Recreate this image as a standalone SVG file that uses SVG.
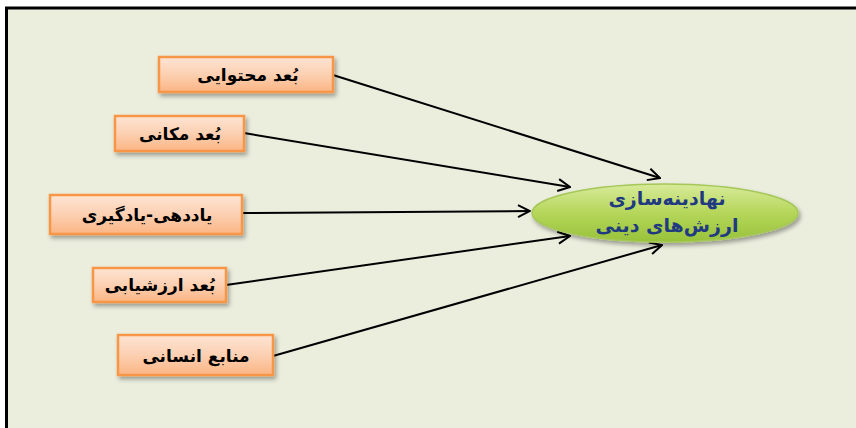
<svg xmlns="http://www.w3.org/2000/svg" width="856" height="428" viewBox="0 0 856 428">
<defs>
<linearGradient id="boxg" x1="0" y1="0" x2="0" y2="1">
<stop offset="0" stop-color="#fde4d4"/>
<stop offset="0.5" stop-color="#fcd0b2"/>
<stop offset="1" stop-color="#fbb584"/>
</linearGradient>
<linearGradient id="ellg" x1="0" y1="0" x2="0" y2="1">
<stop offset="0" stop-color="#d8eb9a"/>
<stop offset="0.5" stop-color="#b5d65a"/>
<stop offset="1" stop-color="#98c23a"/>
</linearGradient>
<filter id="sh" x="-10%" y="-20%" width="130%" height="160%">
<feDropShadow dx="2" dy="3" stdDeviation="2" flood-color="#000" flood-opacity="0.35"/>
</filter>
<marker id="arr" viewBox="0 0 14 14" refX="13" refY="7" markerWidth="14" markerHeight="14" markerUnits="userSpaceOnUse" orient="auto">
<path d="M1,1 L13,7 L1,13" fill="none" stroke="#000" stroke-width="2"/>
</marker>
</defs>
<style>
.box{fill:url(#boxg);stroke:#f79646;stroke-width:2.5;filter:url(#sh)}
.lbl{font-family:"DejaVu Sans","Noto Sans",sans-serif;font-weight:bold;font-size:17px;fill:#000;text-anchor:middle;direction:rtl}
.conn{stroke:#000;stroke-width:2;fill:none;marker-end:url(#arr)}
.elbl{font-family:"DejaVu Sans","Noto Sans",sans-serif;font-weight:bold;font-size:19px;fill:#1f3a80;text-anchor:middle;direction:rtl}
</style>
<rect x="0" y="0" width="856" height="428" fill="#fff"/>
<rect x="6.5" y="8" width="856" height="430" fill="#ebeedd" stroke="#000" stroke-width="3"/>
<g id="connectors">
<line class="conn" x1="333" y1="75" x2="660" y2="178"/>
<line class="conn" x1="244" y1="133" x2="570" y2="187"/>
<line class="conn" x1="242" y1="213" x2="530" y2="211"/>
<line class="conn" x1="226" y1="285" x2="570" y2="236"/>
<line class="conn" x1="273" y1="356" x2="662" y2="245"/>
</g>
<g id="n1">
<rect class="box" x="159" y="57" width="174" height="35"/>
<text class="lbl" x="248" y="81">بُعد محتوایی</text>
</g>
<g id="n2">
<rect class="box" x="115" y="116" width="129" height="35"/>
<text class="lbl" x="180" y="140">بُعد مکانی</text>
</g>
<g id="n3">
<rect class="box" x="50" y="195" width="192" height="39"/>
<text class="lbl" x="147" y="221">یاددهی-یادگیری</text>
</g>
<g id="n4">
<rect class="box" x="93" y="268" width="133" height="34"/>
<text class="lbl" x="160" y="291">بُعد ارزشیابی</text>
</g>
<g id="n5">
<rect class="box" x="118" y="335" width="155" height="40"/>
<text class="lbl" x="196" y="362">منابع انسانی</text>
</g>
<g id="target">
<ellipse cx="665" cy="213" rx="133" ry="29" fill="url(#ellg)" stroke="#a6c75a" stroke-width="1.5" filter="url(#sh)"/>
<text class="elbl" x="667" y="205">نهادینه‌سازی</text>
<text class="elbl" x="667" y="232">ارزش‌های دینی</text>
</g>
</svg>
